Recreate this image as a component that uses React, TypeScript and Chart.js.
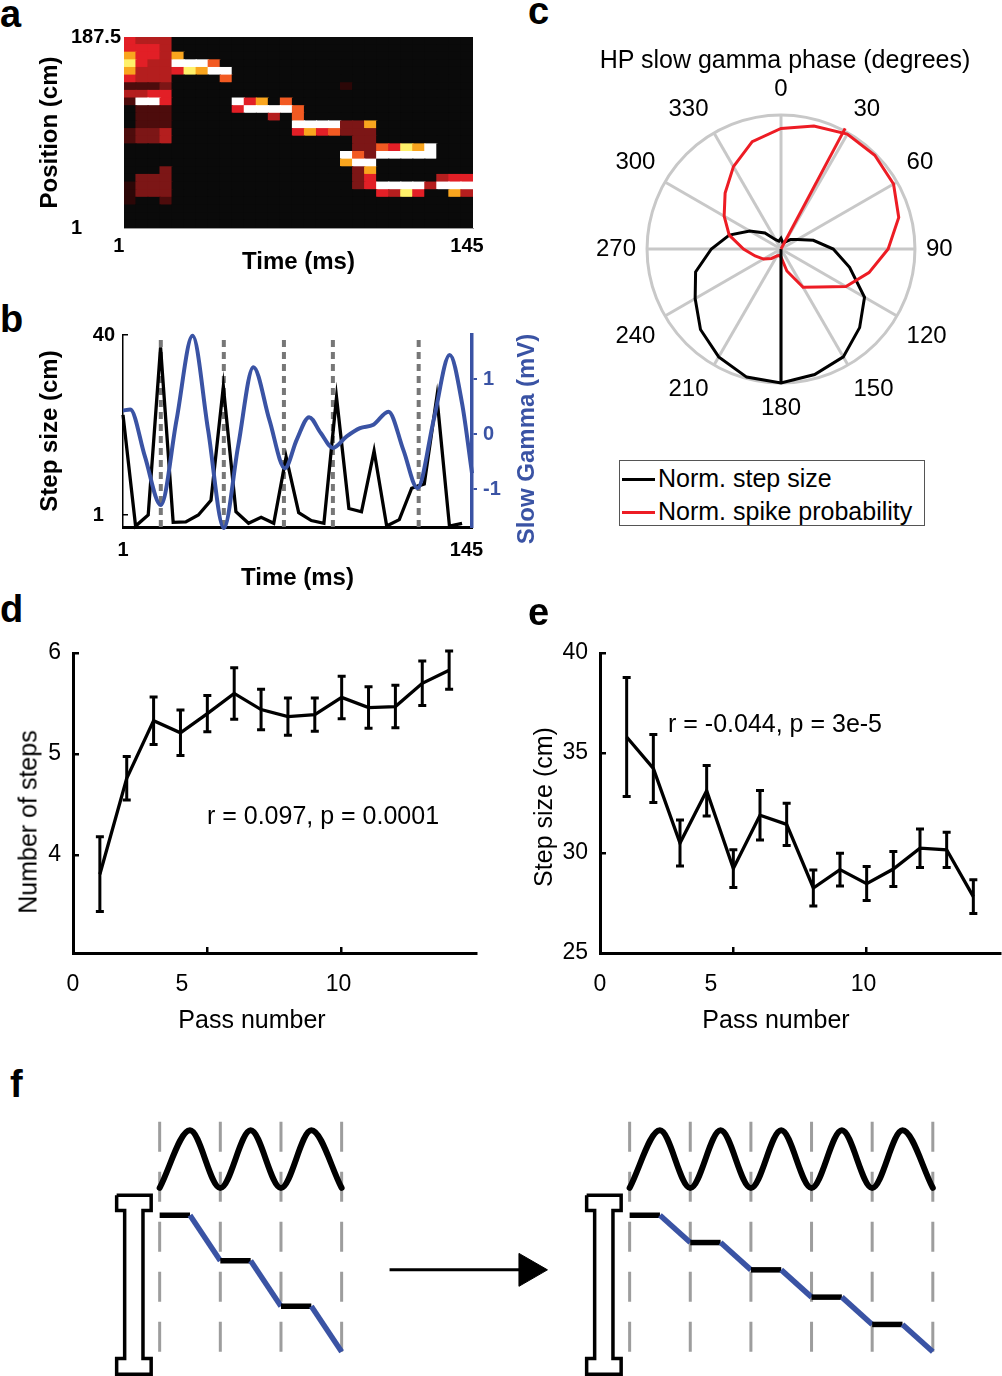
import React, { useEffect, useRef } from 'react';
import { Chart, registerables } from 'chart.js';

Chart.register(...registerables);

const FONT = '"Liberation Sans", Arial, Helvetica, sans-serif';
Chart.defaults.font.family = FONT;
Chart.defaults.color = '#000';

const BLUE = '#3a53a4';
const RED = '#ed1c24';
const SPOKE_GRAY = '#c8c8c8';
const DASH_GRAY = '#777777';
const SCHEMA_GRAY = '#9d9d9d';
const NBSP = '\u00a0';

// ---------------- Panel a : position posterior heat map ----------------
const HEAT_TIME_BINS_MS = [1, 6, 11, 16, 21, 26, 31, 36, 41, 46, 51, 56, 61, 66, 71, 76, 81, 86, 91, 96, 101, 106, 111, 116, 121, 126, 131, 136, 141];
const POSITION_BIN_CM = 7.5;
// one string per position bin (top = 187.5 cm), one digit per time bin (0 = dark, 9 = white)
const HEAT_ROWS = [
  '54440 00000 00000 00000 00000 0000',
  '55540 00000 00000 00000 00000 0000',
  '75547 00000 00000 00000 00000 0000',
  '85449 99600 00000 00000 00000 0000',
  '74445 87990 00000 00000 00000 0000',
  '54440 00060 00000 00000 00000 0000',
  '22230 00000 00000 00010 00000 0000',
  '44550 00000 00000 00000 00000 0000',
  '29950 00009 57060 00000 00000 0000',
  '02220 00005 99996 00000 00000 0000',
  '02220 00000 00406 00000 00000 0000',
  '02220 00000 00009 99933 70000 0000',
  '23340 00000 00005 75633 30000 0000',
  '23340 00000 00000 00003 30000 0000',
  '00000 00000 00000 00003 36587 9000',
  '00000 00000 00000 00096 39999 9000',
  '00000 00000 00000 00079 90000 0000',
  '00030 00000 00000 00003 70000 0000',
  '03330 00000 00000 00003 50000 0455',
  '13330 00000 00000 00003 59999 4999',
  '13330 00000 00000 00000 05485 0074',
  '10020 00000 00000 00000 00000 0000',
  '00000 00000 00000 00000 00000 0000',
  '00000 00000 00000 00000 00000 0000',
  '00000 00000 00000 00000 00000 0000',
];
const HOT_PALETTE = ['#0a0a0a', '#2c0707', '#4d0c0c', '#7c1616', '#b41e1e', '#e21f26', '#f25a22', '#f9a51e', '#fff16a', '#ffffff'];
const A_X_TICK_LABELS = ['1', '145'];
const A_Y_TICK_VALUES = [0, 187.5];
const A_Y_TICK_LABELS = ['1', '187.5'];

// ---------------- Panel b : step size vs slow gamma ----------------
const STEP_TIME_MS = [1, 6.2, 11.4, 16.5, 21.7, 26.9, 32.1, 37.3, 42.4, 47.6, 52.8, 58, 63.2, 68.3, 73.5, 78.7, 83.9, 89.1, 94.2, 99.4, 104.6, 109.8, 115, 120.1, 125.3, 130.5, 135.7, 140.9];
const STEP_SIZE_CM = [22.7, -1.4, 1.0, 37.3, -0.6, -0.5, 1.0, 4.2, 28.8, 1.7, -0.8, 0.5, -0.8, 13.6, 1.5, -0.2, -0.8, 26.5, 2.4, 1.7, 14.9, -1.4, 0, 6.8, 7.7, 26.6, -1.4, -0.8];
const GAMMA_TIME_MS = [1, 4, 10, 16.6, 23.1, 29.7, 36.1, 42.6, 48.5, 54.8, 61.4, 67.8, 72.7, 77.8, 82.6, 87.6, 93.3, 98.8, 104.3, 110.5, 116.7, 122.5, 129.2, 135.8, 140.9, 145];
const GAMMA_MV = [0.43, 0.45, -0.4, -1.29, 0.26, 1.79, 0.08, -1.71, -0.22, 1.22, 0.26, -0.62, -0.1, 0.31, 0.02, -0.25, -0.04, 0.11, 0.17, 0.41, -0.29, -0.98, 0.26, 1.44, 0.56, -0.71];
const TROUGH_TIME_MS = [16.6, 42.6, 67.4, 87.6, 123];
const B_X_TICKS = [1, 145];
const B_Y_TICKS = [1, 40];
const B_Y_RANGE = [-1.6, 40];
const B_Y2_TICKS = [-1, 0, 1];
const B_Y2_RANGE = [-1.69, 1.805];

// ---------------- Panel c : polar plot ----------------
const PHASE_DEG = [0, 15, 30, 45, 60, 75, 90, 105, 120, 135, 150, 165, 180, 195, 210, 225, 240, 255, 270, 285, 300, 315, 330, 345];
const SPIKE_PROB_NORM = [0.9, 0.95, 0.99, 0.99, 0.97, 0.91, 0.8, 0.68, 0.56, 0.4, 0.33, 0.17, 0.06, 0.05, 0.06, 0.1, 0.15, 0.2, 0.28, 0.4, 0.49, 0.59, 0.71, 0.83];
const STEP_SIZE_NORM = [0.08, 0.05, 0.06, 0.1, 0.14, 0.25, 0.39, 0.53, 0.72, 0.83, 0.93, 0.97, 1.0, 0.99, 0.93, 0.85, 0.74, 0.66, 0.52, 0.4, 0.27, 0.17, 0.08, 0.06];
const MEAN_VECTOR_DEG = [180, 28];
const MEAN_VECTOR_LEN = [1.0, 1.02];
const MEAN_VECTOR_COLOR = ['#000000', RED];

// ---------------- Panels d, e : pass number ----------------
const PASS_NUMBER = [1, 2, 3, 4, 5, 6, 7, 8, 9, 10, 11, 12, 13, 14];
const STEPS_MEAN = [3.81, 4.76, 5.33, 5.21, 5.4, 5.6, 5.44, 5.37, 5.39, 5.56, 5.46, 5.47, 5.7, 5.83];
const STEPS_SEM = [0.37, 0.215, 0.235, 0.225, 0.18, 0.255, 0.2, 0.185, 0.165, 0.21, 0.205, 0.21, 0.22, 0.19];
const STEP_SIZE_MEAN = [35.8, 34.23, 30.5, 33.11, 29.22, 31.89, 31.43, 28.25, 29.17, 28.47, 29.2, 30.24, 30.16, 27.82];
const STEP_SIZE_SEM = [2.98, 1.7, 1.15, 1.26, 0.94, 1.24, 1.06, 0.9, 0.82, 0.85, 0.88, 0.96, 0.88, 0.84];
const PASS_X_TICKS = [0, 5, 10];
const D_Y_TICKS = [4, 5, 6];
const E_Y_TICKS = [25, 30, 35, 40];

// ---------------- Panel f : schematic ----------------
const F_LEFT_EDGES = [0, 1, 2, 3];
const F_RIGHT_EDGES = [0, 1, 2, 3, 4, 5];
const F_DASH_Y = [-1.54, 2.25];
const F_LEFT_WAVE_X = [0, 0.5, 1, 1.5, 2, 2.5, 3];
const F_LEFT_WAVE_Y = [-0.45, -1.4, -0.45, -1.4, -0.45, -1.4, -0.45];
const F_RIGHT_WAVE_X = [0, 0.5, 1, 1.5, 2, 2.5, 3, 3.5, 4, 4.5, 5];
const F_RIGHT_WAVE_Y = [-0.45, -1.4, -0.45, -1.4, -0.45, -1.4, -0.45, -1.4, -0.45, -1.4, -0.45];
const F_LEFT_STAIR_X = [0, 0.5, 1, 1.5, 2, 2.5, 3];
const F_LEFT_STAIR_Y = [0, 0, 0.75, 0.75, 1.5, 1.5, 2.25];
const F_RIGHT_STAIR_X = [0, 0.5, 1, 1.5, 2, 2.5, 3, 3.5, 4, 4.5, 5];
const F_RIGHT_STAIR_Y = [0, 0, 0.45, 0.45, 0.9, 0.9, 1.35, 1.35, 1.8, 1.8, 2.25];
const IBEAM_X = [-0.709, -0.14, -0.14, -0.275, -0.275, -0.14, -0.14, -0.709, -0.709, -0.577, -0.577, -0.709, -0.709];
const IBEAM_Y = [-0.33, -0.33, -0.08, -0.08, 2.36, 2.36, 2.62, 2.62, 2.36, 2.36, -0.08, -0.08, -0.33];
const ARROW_X = [3.79, 6.08];
const ARROW_Y = [0.9, 0.9];

// ---------------------------------------------------------------
const baseOptions: any = {
  responsive: false,
  animation: false,
  devicePixelRatio: 1,
  events: [],
  plugins: { legend: { display: false }, tooltip: { enabled: false }, title: { display: false } },
};

const pts = (xs: number[], ys: number[]) => xs.map((x, i) => ({ x, y: ys[i] }));

const fitY = (w: number) => (s: any) => {
  s.width = w;
  s.paddingTop = 0;
  s.paddingBottom = 0;
};
const fitX = (h: number) => (s: any) => {
  s.height = h;
  s.paddingLeft = 0;
  s.paddingRight = 0;
};

const errorBarPlugin = {
  id: 'errorBars',
  afterDatasetsDraw(chart: any) {
    const { ctx, scales } = chart;
    chart.data.datasets.forEach((ds: any) => {
      if (!ds.errors) return;
      ctx.save();
      ctx.strokeStyle = '#000';
      ctx.lineWidth = 3;
      ds.data.forEach((p: any, j: number) => {
        const px = scales.x.getPixelForValue(p.x);
        const y1 = scales.y.getPixelForValue(p.y - ds.errors[j]);
        const y2 = scales.y.getPixelForValue(p.y + ds.errors[j]);
        ctx.beginPath();
        ctx.moveTo(px, y1);
        ctx.lineTo(px, y2);
        ctx.moveTo(px - 4, y1);
        ctx.lineTo(px + 4, y1);
        ctx.moveTo(px - 4, y2);
        ctx.lineTo(px + 4, y2);
        ctx.stroke();
      });
      ctx.restore();
    });
  },
};

const meanVectorPlugin = {
  id: 'meanVectors',
  afterDatasetsDraw(chart: any) {
    const r = chart.scales.r;
    const ctx = chart.ctx;
    ctx.save();
    ctx.lineWidth = 3;
    MEAN_VECTOR_DEG.forEach((deg, i) => {
      const dist = r.getDistanceFromCenterForValue(MEAN_VECTOR_LEN[i]);
      const a = (deg * Math.PI) / 180 - Math.PI / 2;
      ctx.strokeStyle = MEAN_VECTOR_COLOR[i];
      ctx.beginPath();
      ctx.moveTo(r.xCenter, r.yCenter);
      ctx.lineTo(r.xCenter + Math.cos(a) * dist, r.yCenter + Math.sin(a) * dist);
      ctx.stroke();
    });
    ctx.restore();
  },
};

function panelAConfig() {
  const rowsBottomUp = [...HEAT_ROWS].reverse().map((r) => r.replace(/\s/g, '').padEnd(HEAT_TIME_BINS_MS.length, '0'));
  return {
    type: 'bar',
    data: {
      labels: HEAT_TIME_BINS_MS.map(String),
      datasets: rowsBottomUp.map((row) => ({
        data: HEAT_TIME_BINS_MS.map(() => POSITION_BIN_CM),
        backgroundColor: row.split('').map((ch) => HOT_PALETTE[Number(ch)]),
        borderWidth: 0,
        barPercentage: 1,
        categoryPercentage: 1,
        inflateAmount: 0.6,
        stack: 'heat',
      })),
    },
    options: {
      ...baseOptions,
      layout: { autoPadding: false, padding: { left: 0, right: 17, top: 17, bottom: 0 } },
      scales: {
        x: {
          type: 'category',
          stacked: true,
          grid: { display: false, drawTicks: false },
          border: { display: true, color: '#9a9a9a', width: 1 },
          ticks: {
            autoSkip: false,
            maxRotation: 0,
            padding: 6,
            color: '#000',
            font: { size: 20, weight: 'bold' },
            callback: (_v: any, i: number) =>
              i === 0 ? A_X_TICK_LABELS[0] + NBSP.repeat(4) : i === HEAT_TIME_BINS_MS.length - 1 ? A_X_TICK_LABELS[1] : '',
          },
          title: { display: true, text: 'Time (ms)', color: '#000', font: { size: 24, weight: 'bold' }, padding: { top: 0, bottom: 3.6 } },
          afterFit: fitX(52),
        },
        y: {
          type: 'linear',
          stacked: true,
          min: 0,
          max: 187.5,
          grid: { display: false, drawTicks: false },
          border: { display: true, color: '#9a9a9a', width: 1 },
          afterBuildTicks: (s: any) => { s.ticks = A_Y_TICK_VALUES.map((v) => ({ value: v })); },
          ticks: {
            autoSkip: false,
            padding: 3,
            color: '#000',
            font: { size: 20, weight: 'bold' },
            callback: (v: any) => {
              const i = A_Y_TICK_VALUES.indexOf(Number(v));
              return i === 0 ? A_Y_TICK_LABELS[0] + NBSP.repeat(7) : A_Y_TICK_LABELS[i];
            },
          },
          title: { display: true, text: 'Position (cm)', color: '#000', font: { size: 24, weight: 'bold' }, padding: { top: 5.6, bottom: 0 } },
          afterFit: fitY(94),
        },
      },
    },
  };
}

function panelBConfig() {
  return {
    type: 'line',
    data: {
      datasets: [
        { yAxisID: 'y2', data: pts(GAMMA_TIME_MS, GAMMA_MV), borderColor: BLUE, borderWidth: 4, pointRadius: 0, cubicInterpolationMode: 'monotone', clip: false },
        { yAxisID: 'y', data: pts(STEP_TIME_MS, STEP_SIZE_CM), borderColor: '#000', borderWidth: 3.3, pointRadius: 0, tension: 0, clip: false },
        ...TROUGH_TIME_MS.map((t) => ({
          yAxisID: 'y',
          data: [{ x: t, y: B_Y_RANGE[0] }, { x: t, y: B_Y_RANGE[1] }],
          borderColor: DASH_GRAY,
          borderWidth: 4,
          borderDash: [7, 5],
          pointRadius: 0,
        })),
      ],
    },
    options: {
      ...baseOptions,
      layout: { autoPadding: false, padding: { left: 0, right: 0, top: 15, bottom: 0 } },
      scales: {
        x: {
          type: 'linear',
          min: B_X_TICKS[0],
          max: B_X_TICKS[1],
          afterBuildTicks: (s: any) => { s.ticks = B_X_TICKS.map((v) => ({ value: v })); },
          grid: { display: false, drawTicks: false },
          border: { display: true, color: '#000', width: 3 },
          ticks: {
            padding: 11,
            color: '#000',
            font: { size: 20, weight: 'bold' },
            callback: (v: any) => (Number(v) === B_X_TICKS[1] ? String(v) + NBSP.repeat(2) : String(v)),
          },
          title: { display: true, text: 'Time (ms)', color: '#000', font: { size: 24, weight: 'bold' }, padding: { top: 0, bottom: 7.6 } },
          afterFit: fitX(73),
        },
        y: {
          type: 'linear',
          position: 'left',
          min: B_Y_RANGE[0],
          max: B_Y_RANGE[1],
          afterBuildTicks: (s: any) => { s.ticks = B_Y_TICKS.map((v) => ({ value: v })); },
          grid: { display: true, drawOnChartArea: false, drawTicks: true, tickLength: -5, color: '#000', lineWidth: 1.5 },
          border: { display: true, color: '#000', width: 1.5 },
          ticks: {
            padding: 13,
            color: '#000',
            font: { size: 20, weight: 'bold' },
            callback: (v: any) => (Number(v) === B_Y_TICKS[0] ? String(v) + NBSP.repeat(2) : String(v)),
          },
          title: { display: true, text: 'Step size (cm)', color: '#000', font: { size: 24, weight: 'bold' }, padding: { top: 5.6, bottom: 0 } },
          afterFit: fitY(93),
        },
        y2: {
          type: 'linear',
          position: 'right',
          min: B_Y2_RANGE[0],
          max: B_Y2_RANGE[1],
          afterBuildTicks: (s: any) => { s.ticks = B_Y2_TICKS.map((v) => ({ value: v })); },
          grid: { display: true, drawOnChartArea: false, drawTicks: true, tickLength: 5, color: BLUE, lineWidth: 2 },
          border: { display: true, color: BLUE, width: 3.5 },
          ticks: { padding: 6, color: BLUE, font: { size: 20, weight: 'bold' }, callback: (v: any) => String(v) },
          afterFit: fitY(98),
        },
      },
    },
  };
}

function panelCConfig() {
  return {
    type: 'radar',
    data: {
      labels: PHASE_DEG.map(String),
      datasets: [
        { data: SPIKE_PROB_NORM, borderColor: RED, borderWidth: 3, pointRadius: 0, fill: false },
        { data: STEP_SIZE_NORM, borderColor: '#000', borderWidth: 3, pointRadius: 0, fill: false },
      ],
    },
    options: {
      ...baseOptions,
      layout: { autoPadding: false, padding: 0 },
      scales: {
        r: {
          min: 0,
          max: 1,
          startAngle: 0,
          ticks: { display: false, stepSize: 1 },
          grid: { circular: true, color: SPOKE_GRAY, lineWidth: 3 },
          angleLines: {
            display: true,
            lineWidth: 3,
            color: (c: any) => (PHASE_DEG[c.index] % 30 === 0 ? SPOKE_GRAY : 'rgba(0,0,0,0)'),
          },
          pointLabels: {
            display: true,
            padding: 11,
            color: '#000',
            font: { size: 24 },
            callback: (label: string, i: number) => (PHASE_DEG[i] % 30 === 0 ? label : ''),
          },
        },
      },
    },
    plugins: [meanVectorPlugin],
  };
}

function passConfig(o: { means: number[]; sems: number[]; yMin: number; yMax: number; yTicks: number[]; yWidth: number; padRight: number; xLabelShift: number[] }) {
  return {
    type: 'line',
    data: {
      datasets: [
        { data: pts(PASS_NUMBER, o.means), errors: o.sems, borderColor: '#000', borderWidth: 3.3, pointRadius: 0, tension: 0, clip: false },
      ],
    },
    options: {
      ...baseOptions,
      layout: { autoPadding: false, padding: { left: 0, right: o.padRight, top: 23, bottom: 0 } },
      scales: {
        x: {
          type: 'linear',
          min: 0,
          max: 15,
          afterBuildTicks: (s: any) => { s.ticks = PASS_X_TICKS.map((v) => ({ value: v })); },
          grid: { display: true, drawOnChartArea: false, drawTicks: true, tickLength: -6, color: '#000', lineWidth: 2.5 },
          border: { display: true, color: '#000', width: 3 },
          ticks: {
            padding: 24,
            color: '#000',
            font: { size: 23 },
            callback: (v: any, i: number) => String(v) + NBSP.repeat(o.xLabelShift[i] || 0),
          },
          afterFit: fitX(87),
        },
        y: {
          type: 'linear',
          min: o.yMin,
          max: o.yMax,
          afterBuildTicks: (s: any) => { s.ticks = o.yTicks.map((v) => ({ value: v })); },
          grid: { display: true, drawOnChartArea: false, drawTicks: true, tickLength: -6, color: '#000', lineWidth: 2.5 },
          border: { display: true, color: '#000', width: 3 },
          ticks: { padding: 18, color: '#000', font: { size: 23 }, callback: (v: any) => String(v) },
          afterFit: fitY(o.yWidth),
        },
      },
    },
    plugins: [errorBarPlugin],
  };
}

function schematicConfig(edges: number[], waveX: number[], waveY: number[], stairX: number[], stairY: number[], xMax: number, withArrow: boolean) {
  const datasets: any[] = [
    {
      data: pts(stairX, stairY),
      borderColor: '#000',
      borderWidth: 5.5,
      segment: { borderColor: (c: any) => (c.p0DataIndex % 2 === 0 ? '#000' : BLUE) },
      pointRadius: 0,
      tension: 0,
      borderCapStyle: 'butt',
      clip: false,
    },
    { data: pts(waveX, waveY), borderColor: '#000', borderWidth: 6, pointRadius: 0, cubicInterpolationMode: 'monotone', borderCapStyle: 'round', clip: false },
    { data: pts(IBEAM_X, IBEAM_Y), borderColor: '#000', borderWidth: 3.5, pointRadius: 0, tension: 0, borderJoinStyle: 'miter', clip: false },
  ];
  if (withArrow) {
    datasets.push({
      data: pts(ARROW_X, ARROW_Y),
      borderColor: '#000',
      borderWidth: 3,
      pointRadius: [0, 19],
      pointStyle: 'triangle',
      pointRotation: 90,
      pointBackgroundColor: '#000',
      pointBorderColor: '#000',
      pointBorderWidth: 1,
      clip: false,
    });
  }
  edges.forEach((e) =>
    datasets.push({
      data: F_DASH_Y.map((y) => ({ x: e, y })),
      borderColor: SCHEMA_GRAY,
      borderWidth: 3,
      borderDash: [30, 20],
      pointRadius: 0,
      clip: false,
    })
  );
  return {
    type: 'line',
    data: { datasets },
    options: {
      ...baseOptions,
      layout: { autoPadding: false, padding: 0 },
      scales: {
        x: { type: 'linear', min: -1, max: xMax, display: false },
        y: { type: 'linear', min: -1.9, max: 2.65, reverse: true, display: false },
      },
    },
  };
}

function ChartCanvas({ left, top, width, height, config }: { left: number; top: number; width: number; height: number; config: () => any }) {
  const ref = useRef<HTMLCanvasElement | null>(null);
  useEffect(() => {
    if (!ref.current) return;
    const chart = new Chart(ref.current, config());
    return () => chart.destroy();
  }, []);
  return <canvas ref={ref} width={width} height={height} style={{ position: 'absolute', left, top, width, height }} />;
}

function CText({ x, y, children, size = 25, bold = false, color = '#000', rotate = 0 }: any) {
  return (
    <div
      style={{
        position: 'absolute',
        left: x,
        top: y,
        transform: `translate(-50%, -50%)${rotate ? ` rotate(${rotate}deg)` : ''}`,
        whiteSpace: 'nowrap',
        fontSize: size,
        fontWeight: bold ? 'bold' : 'normal',
        lineHeight: 1,
        color,
      }}
    >
      {children}
    </div>
  );
}

function BText({ x, baseline, children, size = 25, bold = false, color = '#000' }: any) {
  return (
    <div
      style={{
        position: 'absolute',
        left: x,
        top: baseline - 0.847 * size,
        whiteSpace: 'nowrap',
        fontSize: size,
        fontWeight: bold ? 'bold' : 'normal',
        lineHeight: 1,
        color,
      }}
    >
      {children}
    </div>
  );
}

export default function App() {
  return (
    <div style={{ position: 'absolute', left: 0, top: 0, width: 1002, height: 1376, background: '#fff', fontFamily: FONT, overflow: 'hidden' }}>
      <ChartCanvas left={30} top={20} width={460} height={260} config={panelAConfig} />
      <ChartCanvas left={30} top={320} width={540} height={280} config={panelBConfig} />
      <ChartCanvas left={590} top={65} width={370} height={370} config={panelCConfig} />
      <ChartCanvas
        left={0}
        top={630}
        width={490}
        height={410}
        config={() => passConfig({ means: STEPS_MEAN, sems: STEPS_SEM, yMin: 3.03, yMax: 6, yTicks: D_Y_TICKS, yWidth: 73, padRight: 14, xLabelShift: [0, 8, 1] })}
      />
      <ChartCanvas
        left={520}
        top={630}
        width={482}
        height={410}
        config={() => passConfig({ means: STEP_SIZE_MEAN, sems: STEP_SIZE_SEM, yMin: 25, yMax: 40, yTicks: E_Y_TICKS, yWidth: 80, padRight: 2, xLabelShift: [0, 7, 1] })}
      />
      <ChartCanvas left={99} top={1100} width={461} height={276} config={() => schematicConfig(F_LEFT_EDGES, F_LEFT_WAVE_X, F_LEFT_WAVE_Y, F_LEFT_STAIR_X, F_LEFT_STAIR_Y, 6.6, true)} />
      <ChartCanvas left={569} top={1100} width={382} height={276} config={() => schematicConfig(F_RIGHT_EDGES, F_RIGHT_WAVE_X, F_RIGHT_WAVE_Y, F_RIGHT_STAIR_X, F_RIGHT_STAIR_Y, 5.3, false)} />

      {/* panel letters */}
      <BText x={0} baseline={27} size={38} bold>a</BText>
      <BText x={0} baseline={332} size={38} bold>b</BText>
      <BText x={528} baseline={24} size={38} bold>c</BText>
      <BText x={0} baseline={622} size={38} bold>d</BText>
      <BText x={528} baseline={625} size={38} bold>e</BText>
      <BText x={10} baseline={1097} size={38} bold>f</BText>

      {/* panel b right axis title */}
      <CText x={526} y={439} size={24} bold color={BLUE} rotate={-90}>Slow Gamma (mV)</CText>

      {/* panel c title and legend */}
      <CText x={785} y={59}>HP slow gamma phase (degrees)</CText>
      <div style={{ position: 'absolute', left: 619, top: 460, width: 306, height: 66, border: '1.5px solid #555', boxSizing: 'border-box' }} />
      <div style={{ position: 'absolute', left: 622, top: 477.5, width: 33, height: 3, background: '#000' }} />
      <BText x={658} baseline={487}>Norm. step size</BText>
      <div style={{ position: 'absolute', left: 622, top: 510.5, width: 33, height: 3, background: RED }} />
      <BText x={658} baseline={520}>Norm. spike probability</BText>

      {/* panel d / e axis titles and stats */}
      <CText x={27.5} y={822} rotate={-90}>Number of steps</CText>
      <CText x={252} y={1019}>Pass number</CText>
      <CText x={323} y={815}>r = 0.097, p = 0.0001</CText>
      <CText x={543} y={807} rotate={-90}>Step size (cm)</CText>
      <CText x={776} y={1019}>Pass number</CText>
      <CText x={775} y={723}>r = -0.044, p = 3e-5</CText>
    </div>
  );
}
